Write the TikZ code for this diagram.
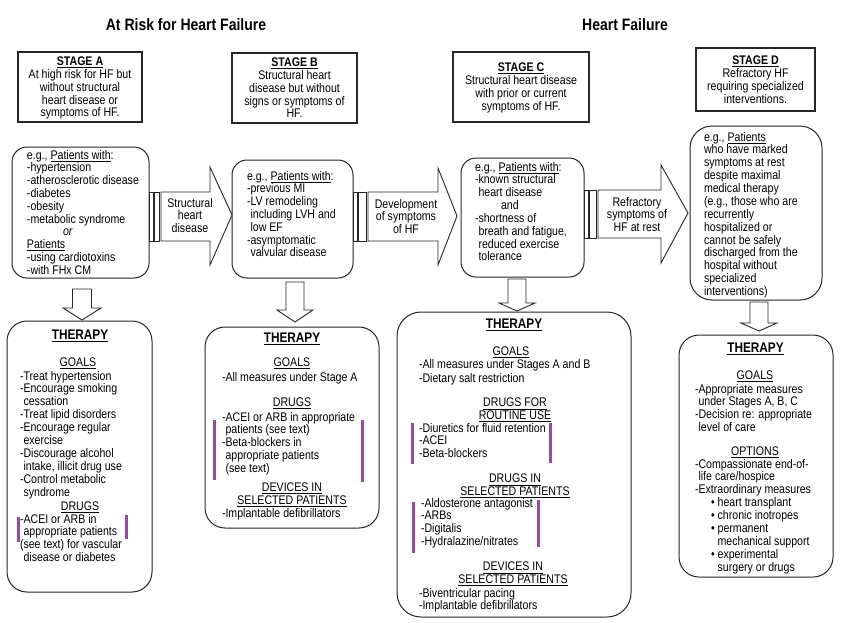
\documentclass[tikz,border=0pt]{standalone}
\usepackage{fontspec}
\setmainfont{Liberation Sans}
\usepackage{graphicx}
\definecolor{purp}{RGB}{150,75,155}
\newcommand{\blk}[3]{\scalebox{1}[1.18]{\fontsize{10.6}{#2}\selectfont\begin{tabular}{@{}#1@{}}#3\end{tabular}}}
\newcommand{\ph}{\phantom{-}}
\newcommand{\thr}{{\fontsize{11.8}{12}\selectfont\bfseries\underline{THERAPY}}}
\begin{document}
\begin{tikzpicture}[x=1pt,y=-1pt,
  txt/.style={inner sep=0pt,outer sep=0pt},
  sbox/.style={draw=black!85,line width=1.1pt,inner sep=0pt,rectangle},
  pbox/.style={draw=black!85,line width=1pt,inner sep=0pt,rectangle,rounded corners=15pt},
  tbox/.style={draw=black!85,line width=1pt,inner sep=0pt,rectangle,rounded corners=20pt},
  arr/.style={draw=black!85,line width=0.9pt,fill=white,line join=miter},
  pbar/.style={draw=purp,line width=3pt}]
\useasboundingbox (0,0) rectangle (861,622);
\fill[white] (0,0) rectangle (861,622);

% titles
\node[txt] (t1) at (186,25) {\scalebox{1}[1.18]{\fontsize{14}{16}\selectfont\bfseries At Risk for Heart Failure}};
\node[txt] (t2) at (625,25) {\scalebox{1}[1.18]{\fontsize{14}{16}\selectfont\bfseries Heart Failure}};

% stage boxes
\node[sbox,minimum width=124pt,minimum height=70pt] (sa) at (80,87) {};
\node[sbox,minimum width=125pt,minimum height=70pt] (sb) at (294.5,88) {};
\node[sbox,minimum width=136pt,minimum height=70pt] (sc) at (521,87) {};
\node[sbox,minimum width=119pt,minimum height=63pt] (sd) at (755.5,79.5) {};
\node[txt,anchor=north] (sat) at (80,57)
  {\blk{c}{10.59}{\textbf{\underline{STAGE A}}\\At high risk for HF but\\without structural\\heart disease or\\symptoms of HF.}};
\node[txt,anchor=north] (sbt) at (294.5,58)
  {\blk{c}{10.59}{\textbf{\underline{STAGE B}}\\Structural heart\\disease but without\\signs or symptoms of\\HF.}};
\node[txt,anchor=north] (sct) at (521,63)
  {\blk{c}{10.59}{\textbf{\underline{STAGE C}}\\Structural heart disease\\with prior or current\\symptoms of HF.}};
\node[txt,anchor=north] (sdt) at (755.5,56)
  {\blk{c}{10.59}{\textbf{\underline{STAGE D}}\\Refractory HF\\requiring specialized\\interventions.}};

% patient boxes
\node[pbox,minimum width=137pt,minimum height=131pt] (pa) at (80.5,212.5) {};
\node[pbox,minimum width=121pt,minimum height=118pt] (pb) at (292.5,219) {};
\node[pbox,minimum width=123pt,minimum height=119pt] (pc) at (522.5,217.5) {};
\node[pbox,rounded corners=22pt,minimum width=132pt,minimum height=174pt] (pd) at (756,213) {};

\node[txt,anchor=north west] (pat) at (27,150) {\blk{l}{10.67}{e.g., \underline{Patients with}:\\-hypertension\\-atherosclerotic disease\\-diabetes\\-obesity\\-metabolic syndrome\\\hspace*{36pt}\textit{or}\\\underline{Patients}\\-using cardiotoxins\\-with FHx CM}};
\node[txt,anchor=north west] (pbt) at (247,171) {\blk{l}{10.59}{e.g., \underline{Patients with}:\\-previous MI\\-LV remodeling\\\ph including LVH and\\\ph low EF\\-asymptomatic\\\ph valvular disease}};
\node[txt,anchor=north west] (pct) at (475,162) {\blk{l}{10.68}{e.g., \underline{Patients with}:\\-known structural\\\ph heart disease\\\hspace*{26pt}and\\-shortness of\\\ph breath and fatigue,\\\ph reduced exercise\\\ph tolerance}};
\node[txt,anchor=north west] (pdt) at (704,132) {\blk{l}{10.8}{e.g., \underline{Patients}\\who have marked\\symptoms at rest\\despite maximal\\medical therapy\\(e.g., those who are\\recurrently\\hospitalized or\\cannot be safely\\discharged from the\\hospital without\\specialized\\interventions)}};

% striped block arrows
\draw[arr] (149,192) rectangle (153,241);
\draw[arr] (154.5,192) rectangle (159,241);
\draw[arr] (161,192) -- (210,192) -- (210,167) -- (232,215) -- (210,265) -- (210,241) -- (161,241) -- cycle;
\node[txt,anchor=north] (a1) at (190,198) {\blk{c}{10.68}{Structural\\heart\\disease}};

\draw[arr] (353,192) rectangle (357,241);
\draw[arr] (358.5,192) rectangle (366,241);
\draw[arr] (368,192) -- (438,192) -- (438,168) -- (457,216) -- (438,265) -- (438,241) -- (368,241) -- cycle;
\node[txt,anchor=north] (a2) at (406,199) {\blk{c}{10.59}{Development\\of symptoms\\of HF}};

\draw[arr] (584,190) rectangle (588,238);
\draw[arr] (589.5,190) rectangle (596,238);
\draw[arr] (598,190) -- (661,190) -- (661,165) -- (688,213) -- (661,263) -- (661,238) -- (598,238) -- cycle;
\node[txt,anchor=north] (a3) at (637,197) {\blk{c}{10.59}{Refractory\\symptoms of\\HF at rest}};

% down arrows
\draw[arr] (72.5,289) -- (91.5,289) -- (91.5,308) -- (101,308) -- (82,320) -- (63,308) -- (72.5,308) -- cycle;
\draw[arr] (286,282) -- (304,282) -- (304,310) -- (313,310) -- (295,322) -- (277,310) -- (286,310) -- cycle;
\draw[arr] (508,279) -- (526,279) -- (526,303) -- (535,303) -- (517,311) -- (499,303) -- (508,303) -- cycle;
\draw[arr] (750,302) -- (768,302) -- (768,323) -- (777,323) -- (759,331) -- (741,323) -- (750,323) -- cycle;

% therapy boxes
\node[tbox,minimum width=145pt,minimum height=271pt] (ta) at (79.5,456.5) {};
\node[tbox,minimum width=174pt,minimum height=201pt] (tb) at (292,427.5) {};
\node[tbox,rounded corners=24pt,minimum width=234pt,minimum height=305pt] (tc) at (514,464.5) {};
\node[tbox,minimum width=154pt,minimum height=242pt] (td) at (756,456) {};

% therapy A
\node[txt,anchor=north] (tah) at (80,330) {\blk{c}{10.68}{\thr}};
\node[txt,anchor=north] (tag) at (78,358) {\blk{c}{10.68}{\underline{GOALS}}};
\node[txt,anchor=north west] (tai) at (20,371) {\blk{l}{10.8}{-Treat hypertension\\-Encourage smoking\\\ph cessation\\-Treat lipid disorders\\-Encourage regular\\\ph exercise\\-Discourage alcohol\\\ph intake, illicit drug use\\-Control metabolic\\\ph syndrome}};
\node[txt,anchor=north] (tad) at (80,502) {\blk{c}{10.68}{\underline{DRUGS}}};
\node[txt,anchor=north west] (tadi) at (20,514) {\blk{l}{10.68}{-ACEI or ARB in\\\ph appropriate patients\\(see text) for vascular\\\ph disease or diabetes}};
\draw[pbar] (18,517) -- (18,542);
\draw[pbar] (126.5,515) -- (126.5,539);

% therapy B
\node[txt,anchor=north] (tbh) at (292,333) {\blk{c}{10.68}{\thr}};
\node[txt,anchor=north] (tbg) at (292,358) {\blk{c}{10.68}{\underline{GOALS}}};
\node[txt,anchor=north west] (tbi) at (222,372) {\blk{l}{10.68}{-All measures under Stage A}};
\node[txt,anchor=north] (tbd) at (292,398) {\blk{c}{10.68}{\underline{DRUGS}}};
\node[txt,anchor=north west] (tbdi) at (222,412) {\blk{l}{10.59}{-ACEI or ARB in appropriate\\\ph patients (see text)\\-Beta-blockers in\\\ph appropriate patients\\\ph (see text)}};
\node[txt,anchor=north] (tbv) at (292,483) {\blk{c}{10.59}{\underline{DEVICES IN}\\\underline{SELECTED PATIENTS}}};
\node[txt,anchor=north west] (tbvi) at (222,508) {\blk{l}{10.59}{-Implantable defibrillators}};
\draw[pbar] (214,420) -- (214,480);
\draw[pbar] (362,420) -- (362,482);

% therapy C
\node[txt,anchor=north] (tch) at (514,319) {\blk{c}{10.68}{\thr}};
\node[txt,anchor=north] (tcg) at (511,347) {\blk{c}{10.68}{\underline{GOALS}}};
\node[txt,anchor=north west] (tci) at (419,359) {\blk{l}{11.5}{-All measures under Stages A and B\\-Dietary salt restriction}};
\node[txt,anchor=north] (tcd) at (515,398) {\blk{c}{10.85}{\underline{DRUGS FOR}\\\underline{ROUTINE USE}}};
\node[txt,anchor=north west] (tcdi) at (419,423) {\blk{l}{10.59}{-Diuretics for fluid retention\\-ACEI\\-Beta-blockers}};
\node[txt,anchor=north] (tcs) at (515,474) {\blk{c}{10.85}{\underline{DRUGS IN}\\\underline{SELECTED PATIENTS}}};
\node[txt,anchor=north west] (tcsi) at (421,498) {\blk{l}{10.76}{-Aldosterone antagonist\\-ARBs\\-Digitalis\\-Hydralazine/nitrates}};
\node[txt,anchor=north] (tcv) at (513,562) {\blk{c}{10.85}{\underline{DEVICES IN}\\\underline{SELECTED PATIENTS}}};
\node[txt,anchor=north west] (tcvi) at (419,588) {\blk{l}{10.4}{-Biventricular pacing\\-Implantable defibrillators}};
\draw[pbar] (412,423) -- (412,464);
\draw[pbar] (550,423) -- (550,463);
\draw[pbar] (413,502) -- (413,553);
\draw[pbar] (538,500) -- (538,547);

% therapy D
\node[txt,anchor=north] (tdh) at (755.5,343) {\blk{c}{10.68}{\thr}};
\node[txt,anchor=north] (tdg) at (755,371) {\blk{c}{10.68}{\underline{GOALS}}};
\node[txt,anchor=north west] (tdi) at (695,384) {\blk{l}{10.74}{-Appropriate measures\\\ph under Stages A, B, C\\-Decision re: appropriate\\\ph level of care}};
\node[txt,anchor=north] (tdo) at (755,447) {\blk{c}{10.68}{\underline{OPTIONS}}};
\node[txt,anchor=north west] (tdoi) at (695,459) {\blk{l}{10.8}{-Compassionate end-of-\\\ph life care/hospice\\-Extraordinary measures\\\hspace*{16pt}\textbullet\ heart transplant\\\hspace*{16pt}\textbullet\ chronic inotropes\\\hspace*{16pt}\textbullet\ permanent\\\hspace*{16pt}\phantom{\textbullet\ }mechanical support\\\hspace*{16pt}\textbullet\ experimental\\\hspace*{16pt}\phantom{\textbullet\ }surgery or drugs}};
\end{tikzpicture}
\end{document}
